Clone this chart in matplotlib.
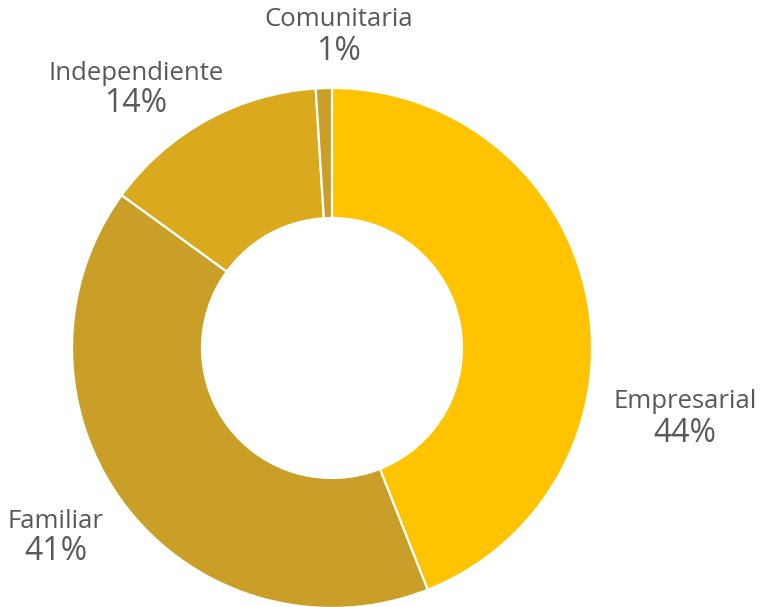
import matplotlib
matplotlib.use("Agg")
import matplotlib.pyplot as plt

categories = ["Empresarial", "Familiar", "Independiente", "Comunitaria"]
shares = [44, 41, 14, 1]
colors = ["#FFC300", "#CA9F28", "#DBA91D", "#CA9F28"]

# label anchor points in pixels (x, name y, value y; y measured from top)
label_px = [(685, 402, 433), (56, 521, 552), (136, 73, 104), (339, 20, 51)]

W, H = 760, 607
fig = plt.figure(figsize=(W / 100, H / 100), dpi=100)
ax = fig.add_axes([0, 0, 1, 1])

cx, cy, r = 332, 348, 260
ax.pie(shares, colors=colors, startangle=90, counterclock=False, radius=1,
       wedgeprops=dict(width=0.5, edgecolor="white", linewidth=1.6))
ax.set_xlim(-cx / r, (W - cx) / r)
ax.set_ylim(-(H - cy) / r, cy / r)
ax.set_aspect("auto")
ax.axis("off")

for name, val, (px, ny, vy) in zip(categories, shares, label_px):
    fig.text(px / W, 1 - ny / H, name, ha="center", va="center",
             fontsize=18.5, family="Open Sans", color="#595959")
    fig.text(px / W, 1 - vy / H, f"{val}%", ha="center", va="center",
             fontsize=23, family="Open Sans", color="#595959")

fig.savefig("out.png", dpi=100)
